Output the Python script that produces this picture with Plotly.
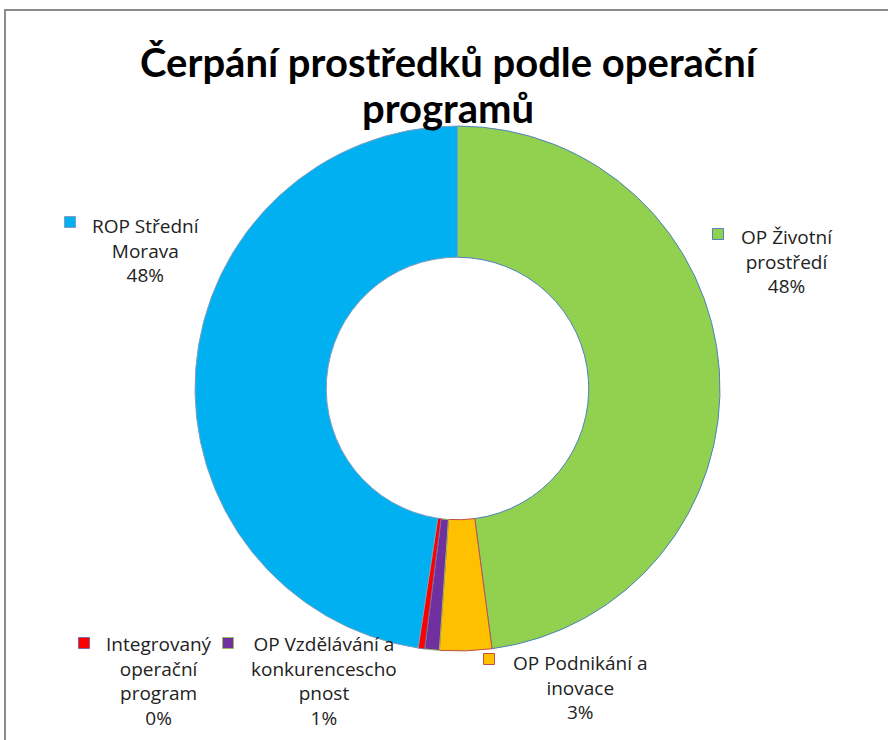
import plotly.graph_objects as go

W, H = 888, 740

labels = ["OP Životní prostředí", "OP Podnikání a inovace", "OP Vzdělávání a konkurenceschopnost",
          "Integrovaný operační program", "ROP Střední Morava"]
values = [47.9, 3.2, 0.9, 0.4, 47.6]
colors = ["#92D050", "#FFC000", "#7030A0", "#FF0000", "#00B0F0"]
edge_colors = ["#4F81BD", "#C0504D", "#9BBB59", "#8064A2", "#7F9FBF"]

title_lines = ["Čerpání prostředků podle operační", "programů"]

# wrapped label text as it appears next to each slice
label_lines = [["OP Životní", "prostředí"], ["OP Podnikání a", "inovace"],
               ["OP Vzdělávání a", "konkurencescho", "pnost"],
               ["Integrovaný", "operační", "program"], ["ROP Střední", "Morava"]]
# (text centre x, block centre y, key x, key y) in pixels
label_pos = [(787, 261, 718, 234), (580, 687, 489, 659), (324, 681, 228, 643),
             (159, 681, 84, 643), (146, 251, 70, 222)]


def px(x):
    return x / W


def py(y):
    return 1 - y / H


fig = go.Figure()
fig.add_trace(go.Pie(
    labels=labels, values=values, hole=0.5, sort=False, direction="clockwise",
    rotation=0, textinfo="none", hoverinfo="label+percent",
    marker=dict(colors=colors, line=dict(color=edge_colors, width=1)),
    domain=dict(x=[px(195), px(720)], y=[py(651), py(126)]),
    showlegend=False,
))

total = sum(values)
annotations = []
shapes = []
for lines, v, (tx, ty, kx, ky), c, ec in zip(label_lines, values, label_pos, colors, edge_colors):
    txt = "<br>".join(lines + ["%d%%" % round(100 * v / total)])
    annotations.append(dict(x=px(tx), y=py(ty), xref="paper", yref="paper", text=txt,
                            showarrow=False, align="center", xanchor="center", yanchor="middle",
                            font=dict(family="Open Sans", size=19, color="#222222")))
    shapes.append(dict(type="rect", xref="paper", yref="paper",
                       x0=px(kx - 5.5), x1=px(kx + 5.5), y0=py(ky + 5.5), y1=py(ky - 5.5),
                       fillcolor=c, line=dict(color=ec, width=1)))

# second title line, tighter spacing than a <br> would give
annotations.append(dict(x=px(448), y=py(108), xref="paper", yref="paper",
                        text="<b>%s</b>" % title_lines[1], showarrow=False,
                        xanchor="center", yanchor="middle",
                        font=dict(family="Lato", size=40, color="black")))

# chart frame (only left and top edges are inside the window)
shapes.append(dict(type="line", xref="paper", yref="paper", x0=px(5), x1=px(5), y0=-0.2, y1=py(10),
                   line=dict(color="#8C8C8C", width=2)))
shapes.append(dict(type="line", xref="paper", yref="paper", x0=px(4), x1=1.2, y0=py(10), y1=py(10),
                   line=dict(color="#8C8C8C", width=2)))

fig.update_layout(
    width=W, height=H,
    margin=dict(l=0, r=0, t=0, b=0),
    paper_bgcolor="white", plot_bgcolor="white",
    title=dict(text="<b>%s</b>" % title_lines[0],
               x=px(448), xanchor="center", y=py(63), yanchor="middle", automargin=False,
               font=dict(family="Lato", size=40, color="black")),
    annotations=annotations, shapes=shapes,
)

# drop the default page margin so the figure sits at the window corner
fig.write_html("out.html", config={"displayModeBar": False},
               post_script="document.body.style.margin='0';document.body.style.overflow='hidden';")
